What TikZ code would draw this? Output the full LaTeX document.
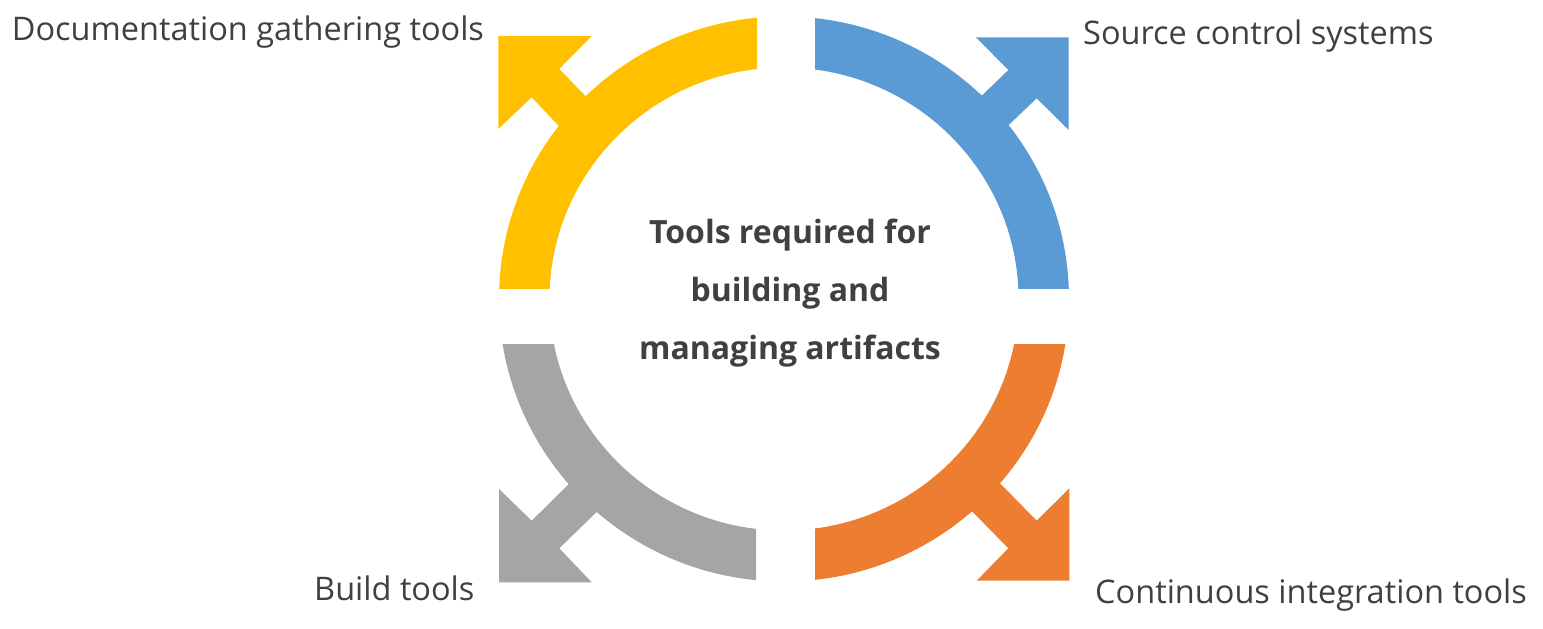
\documentclass[tikz,border=0pt]{standalone}
\usepackage{fontspec}
\setmainfont{Open Sans}
\definecolor{cyel}{HTML}{FFC000}
\definecolor{cblu}{HTML}{5B9BD5}
\definecolor{cgry}{HTML}{A5A5A5}
\definecolor{corg}{HTML}{ED7D31}
\definecolor{ctxt}{HTML}{404040}
\newcommand\myring{(784,299) ellipse [x radius=285,y radius=282.5] (784,299) ellipse [x radius=234.5,y radius=231.5]}
\tikzset{
  band/.style={even odd rule},
  lbl/.style={font=\fontsize{32.5}{39}\selectfont, text=ctxt, inner sep=0pt},
  ttl/.style={font=\bfseries\fontsize{32}{58}\selectfont, text=ctxt, inner sep=0pt, align=center}
}
\begin{document}
\begin{tikzpicture}[x=1pt,y=-1pt]
\useasboundingbox (0,0) rectangle (1543,629);
% yellow
\begin{scope}
  \clip (0,0) rectangle (757,288);
  \fill[cyel,band] \myring;
\end{scope}
\fill[cyel] (498.3,36) -- (591.7,36) -- (559.3,69) -- (600,111) -- (573,141) -- (531.7,97.3) -- (498.3,129) -- cycle;
% blue
\begin{scope}
  \clip (815,0) rectangle (1543,288.7);
  \fill[cblu,band] \myring;
\end{scope}
\fill[cblu] (1068.7,37.3) -- (976,37.3) -- (1008.3,70) -- (967,110) -- (994,139) -- (1036.7,98.3) -- (1068.7,130) -- cycle;
% gray
\begin{scope}
  \clip (0,344) rectangle (756,629);
  \fill[cgry,band] \myring;
\end{scope}
\fill[cgry] (499,582.3) -- (499,489) -- (531.7,520.7) -- (583,470) -- (611,498) -- (559.3,548.3) -- (591.7,582.3) -- cycle;
% orange
\begin{scope}
  \clip (815,344) rectangle (1543,629);
  \fill[corg,band] \myring;
\end{scope}
\fill[corg] (1069.3,580.7) -- (1069.3,488.3) -- (1036.7,520.7) -- (985,468) -- (958,497) -- (1008.3,548.3) -- (976.7,580.7) -- cycle;
% labels
\node[lbl,anchor=base west] (doc) at (11.7,40) {Documentation gathering tools};
\node[lbl,anchor=base west] (src) at (1083,45) {Source control systems};
\node[lbl,anchor=base west] (bld) at (314,600.7) {Build tools};
\node[lbl,anchor=base west] (ci) at (1095,603.3) {Continuous integration tools};
\node[ttl,anchor=base] (title) at (790,359.3) {Tools required for\\building and\\managing artifacts};
\end{tikzpicture}
\end{document}
